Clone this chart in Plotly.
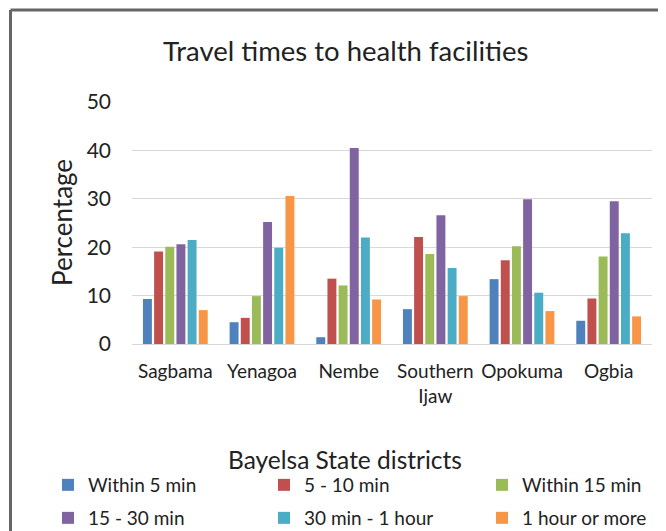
import plotly.graph_objects as go

districts = ["Sagbama", "Yenagoa", "Nembe", "Southern<br>Ijaw", "Opokuma", "Ogbia"]
series_names = ["Within 5 min", "5 - 10 min", "Within 15 min", "15 - 30 min", "30 min - 1 hour", "1 hour or more"]
within_5 = [9.3, 4.5, 1.4, 7.2, 13.4, 4.8]
min_5_10 = [19.1, 5.4, 13.5, 22.1, 17.3, 9.4]
within_15 = [20.1, 9.9, 12.1, 18.6, 20.2, 18.1]
min_15_30 = [20.6, 25.2, 40.5, 26.6, 29.9, 29.5]
min_30_60 = [21.5, 19.9, 22.0, 15.7, 10.6, 22.9]
hour_plus = [7.0, 30.6, 9.2, 9.9, 6.8, 5.7]
y_ticks = [0, 10, 20, 30, 40, 50]

colors = ["#4F81BD", "#C0504D", "#9BBB59", "#8064A2", "#4BACC6", "#F79646"]
values = [within_5, min_5_10, within_15, min_15_30, min_30_60, hour_plus]

FONT = "Lato"
TXT = "#222222"
OFF = 8  # page body margin
W, H = 666 - OFF, 531 - OFF
# plot area in page pixels: x 132..652, y 102..344
L, R, T, B = 132 - OFF, 666 - 652, 102 - OFF, 531 - 344
pw, ph = W - L - R, H - T - B

def px_x(p):
    return (p - OFF - L) / pw

def px_y(p):
    return (H - B - (p - OFF)) / ph

legend_cols = [48, 264, 482]   # page px, left edge of each legend column
legend_rows = [485, 518]       # page px, centre of each legend row

fig = go.Figure()
legend_layout = {}
for i, (name, vals, col) in enumerate(zip(series_names, values, colors)):
    key = "legend" if i == 0 else f"legend{i + 1}"
    fig.add_trace(go.Bar(x=districts, y=vals, name=name,
                         marker=dict(color=col, line=dict(width=0)),
                         legend=key))
    legend_layout[key] = dict(
        x=px_x(legend_cols[i % 3]), y=px_y(legend_rows[i // 3]),
        orientation="h", xanchor="left", yanchor="middle",
        font=dict(size=19, family=FONT, color=TXT),
        itemwidth=30, bgcolor="rgba(0,0,0,0)",
    )

fig.update_layout(
    width=W, height=H,
    margin=dict(l=L, r=R, t=T, b=B, pad=0, autoexpand=False),
    paper_bgcolor="white", plot_bgcolor="white",
    font=dict(family=FONT, color=TXT, size=19),
    barmode="group", bargap=0.227, bargroupgap=0.2,
    showlegend=True,
    xaxis=dict(showgrid=False, showline=False, ticks="", tickfont=dict(size=19),
               automargin=False, ticklabelstandoff=14),
    yaxis=dict(range=[0, 50], tickvals=y_ticks, showgrid=True, gridcolor="#D9D9D9", gridwidth=1,
               zeroline=True, zerolinecolor="#D9D9D9", zerolinewidth=1, showline=False,
               ticks="", tickfont=dict(size=21), ticklabelstandoff=20, automargin=False),
    annotations=[
        dict(text="Travel times to health facilities", x=px_x(345), y=px_y(50), xref="paper", yref="paper",
             xanchor="center", yanchor="middle", showarrow=False, font=dict(size=27.5, family=FONT, color=TXT)),
        dict(text="Percentage", x=px_x(62), y=px_y(223), xref="paper", yref="paper", textangle=-90,
             xanchor="center", yanchor="middle", showarrow=False, font=dict(size=26, family=FONT, color=TXT)),
        dict(text="Bayelsa State districts", x=px_x(345), y=px_y(459), xref="paper", yref="paper",
             xanchor="center", yanchor="middle", showarrow=False, font=dict(size=24.5, family=FONT, color=TXT)),
    ],
    shapes=[
        dict(type="line", xref="paper", yref="paper", x0=px_x(10.5), x1=px_x(700), y0=px_y(10), y1=px_y(10),
             line=dict(color="#666666", width=3)),
        dict(type="line", xref="paper", yref="paper", x0=px_x(10.5), x1=px_x(10.5), y0=px_y(10), y1=px_y(560),
             line=dict(color="#666666", width=3)),
    ],
    **legend_layout,
)

fig.write_html("out.html")
